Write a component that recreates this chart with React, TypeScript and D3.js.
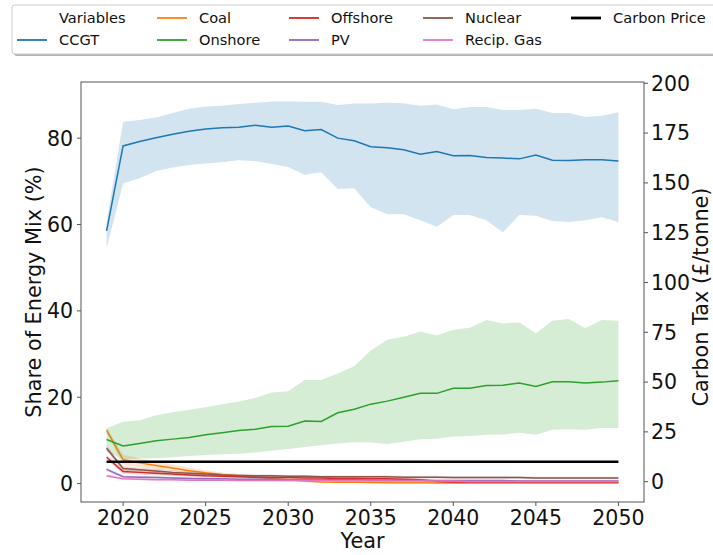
import React from "react";
import * as d3 from "d3";

const years = d3.range(2019, 2051);

const ccgtMean = [58.5,78.2,79.2,80.1,80.9,81.6,82.1,82.4,82.5,83.0,82.5,82.8,81.7,82.0,80.0,79.4,78.0,77.8,77.3,76.3,76.9,75.9,76.0,75.5,75.4,75.2,76.1,74.9,74.8,75.0,75.0,74.7];
const ccgtHi = [60.5,83.8,84.2,84.8,85.8,86.8,87.3,87.5,87.9,88.2,88.5,88.5,88.4,88.4,87.7,88.0,88.0,88.2,88.1,87.5,87.8,86.7,87.2,87.2,86.5,86.5,86.8,85.8,85.8,84.9,85.2,86.0];
const ccgtLo = [54.5,69.5,70.7,72.4,73.2,73.8,74.1,74.4,74.9,74.7,74.0,73.3,71.5,72.1,68.2,68.4,64.0,62.4,62.4,61.0,59.5,62.2,62.2,61.0,58.2,62.2,62.0,60.8,60.6,61.0,61.7,60.6];

const onshoreMean = [10.2,8.7,9.3,9.9,10.3,10.7,11.3,11.8,12.3,12.6,13.2,13.3,14.5,14.4,16.4,17.2,18.4,19.1,20.0,20.9,20.9,22.1,22.1,22.7,22.8,23.3,22.5,23.6,23.6,23.3,23.5,23.8];
const onshoreHi = [12.8,14.3,14.7,15.8,16.5,17.1,17.7,18.4,19.0,19.8,21.1,21.4,24.0,24.0,25.5,27.2,30.8,33.3,34.0,35.2,34.3,35.6,36.1,37.9,37.1,37.3,34.8,37.7,38.1,36.0,37.9,37.7];
const onshoreLo = [7.5,5.6,5.8,5.9,6.1,6.4,6.6,6.8,6.9,7.2,7.6,8.0,8.5,8.9,9.3,9.6,9.5,9.2,9.7,10.3,10.4,10.9,11.0,11.3,11.4,11.8,11.3,12.5,12.6,12.5,12.9,12.9];

const coalMean = [12.4,5.5,4.8,4.2,3.6,3.0,2.5,2.1,1.8,1.5,1.2,0.9,0.6,0.4,0.3,0.3,0.25,0.2,0.2,0.2,0.15,0.15,0.15,0.15,0.15,0.15,0.15,0.15,0.15,0.15,0.15,0.15];
const coalHi = [13.0,6.7,5.9,5.1,4.4,3.7,3.1,2.6,2.2,1.9,1.6,1.3,1.0,0.8,0.6,0.5,0.45,0.4,0.4,0.35,0.3,0.3,0.3,0.3,0.3,0.3,0.3,0.3,0.3,0.3,0.3,0.3];
const coalLo = [11.8,4.3,3.8,3.3,2.9,2.4,2.0,1.7,1.4,1.1,0.8,0.5,0.3,0.2,0.1,0.1,0.1,0.1,0.1,0.05,0.05,0.05,0.05,0.05,0.05,0.05,0.05,0.05,0.05,0.05,0.05,0.05];

const offshoreMean = [6.1,2.8,2.6,2.4,2.2,2.0,1.8,1.7,1.6,1.5,1.4,1.4,1.3,1.3,1.2,1.2,1.1,1.1,1.0,0.9,0.5,0.4,0.4,0.4,0.4,0.4,0.4,0.4,0.4,0.4,0.4,0.4];
const offshoreHi = [6.6,3.4,3.1,2.9,2.6,2.4,2.2,2.0,1.9,1.8,1.7,1.7,1.6,1.6,1.5,1.5,1.4,1.4,1.3,1.2,0.8,0.7,0.7,0.7,0.7,0.7,0.7,0.7,0.7,0.7,0.7,0.7];
const offshoreLo = [5.6,2.2,2.1,1.9,1.8,1.6,1.4,1.4,1.3,1.2,1.1,1.1,1.0,1.0,0.9,0.9,0.8,0.8,0.7,0.6,0.2,0.1,0.1,0.1,0.1,0.1,0.1,0.1,0.1,0.1,0.1,0.1];

const pvMean = [3.3,1.6,1.5,1.4,1.3,1.2,1.1,1.1,1.0,1.0,1.0,0.9,0.9,0.9,0.9,0.9,0.8,0.8,0.8,0.8,0.7,0.7,0.7,0.7,0.7,0.6,0.6,0.6,0.6,0.6,0.6,0.6];
const pvHi = [3.7,1.9,1.8,1.7,1.6,1.5,1.4,1.3,1.3,1.2,1.2,1.1,1.1,1.1,1.1,1.1,1.0,1.0,1.0,1.0,0.9,0.9,0.9,0.9,0.9,0.8,0.8,0.8,0.8,0.8,0.8,0.8];
const pvLo = [2.9,1.3,1.2,1.1,1.0,0.9,0.8,0.9,0.7,0.8,0.8,0.7,0.7,0.7,0.7,0.7,0.6,0.6,0.6,0.6,0.5,0.5,0.5,0.5,0.5,0.4,0.4,0.4,0.4,0.4,0.4,0.4];

const nuclearMean = [8.2,3.5,3.2,2.9,2.6,2.4,2.2,2.0,1.9,1.8,1.8,1.7,1.7,1.6,1.6,1.6,1.6,1.6,1.5,1.5,1.5,1.4,1.4,1.4,1.4,1.4,1.3,1.3,1.3,1.3,1.3,1.3];
const nuclearHi = [8.8,4.1,3.7,3.4,3.0,2.8,2.5,2.3,2.2,2.1,2.1,2.0,2.0,1.9,1.9,1.9,1.9,1.9,1.8,1.8,1.8,1.7,1.7,1.7,1.7,1.7,1.6,1.6,1.6,1.6,1.6,1.6];
const nuclearLo = [7.6,2.9,2.7,2.4,2.2,2.0,1.9,1.7,1.6,1.5,1.5,1.4,1.4,1.3,1.3,1.3,1.3,1.3,1.2,1.2,1.2,1.1,1.1,1.1,1.1,1.1,1.0,1.0,1.0,1.0,1.0,1.0];

const recipMean = [1.8,1.1,1.0,0.9,0.9,0.8,0.8,0.8,0.7,0.7,0.7,0.7,0.7,0.7,0.6,0.6,0.6,0.6,0.6,0.6,0.6,0.6,0.5,0.5,0.5,0.5,0.5,0.5,0.5,0.5,0.5,0.5];
const recipHi = [2.1,1.3,1.2,1.1,1.1,1.0,1.0,1.0,0.9,0.9,0.9,0.9,0.9,0.9,0.8,0.8,0.8,0.8,0.8,0.8,0.8,0.8,0.7,0.7,0.7,0.7,0.7,0.7,0.7,0.7,0.7,0.7];
const recipLo = [1.5,0.9,0.8,0.7,0.7,0.6,0.6,0.6,0.5,0.5,0.5,0.5,0.5,0.5,0.4,0.4,0.4,0.4,0.4,0.4,0.4,0.4,0.3,0.3,0.3,0.3,0.3,0.3,0.3,0.3,0.3,0.3];

const carbonPrice = [10,10,10,10,10,10,10,10,10,10,10,10,10,10,10,10,10,10,10,10,10,10,10,10,10,10,10,10,10,10,10,10];

const seriesNames = ["CCGT", "Coal", "Onshore", "Offshore", "PV", "Nuclear", "Recip. Gas"];
const seriesColors = ["#1f77b4", "#ff7f0e", "#2ca02c", "#d62728", "#9467bd", "#8c564b", "#e377c2"];
const seriesMeans = [ccgtMean, coalMean, onshoreMean, offshoreMean, pvMean, nuclearMean, recipMean];
const seriesHi = [ccgtHi, coalHi, onshoreHi, offshoreHi, pvHi, nuclearHi, recipHi];
const seriesLo = [ccgtLo, coalLo, onshoreLo, offshoreLo, pvLo, nuclearLo, recipLo];

const xTicks = [2020, 2025, 2030, 2035, 2040, 2045, 2050];
const yLeftTicks = [0, 20, 40, 60, 80];
const yRightTicks = [0, 25, 50, 75, 100, 125, 150, 175, 200];

const FONT = "DejaVu Sans, sans-serif";

export default function App() {
  const W = 713, H = 555;
  const L = 81, R = 644, T = 82, B = 502;
  const x = d3.scaleLinear().domain([2017.45, 2051.55]).range([L, R]);
  const yL = d3.scaleLinear().domain([-4.26, 93.0]).range([B, T]);
  const yR = d3.scaleLinear().domain([-10.2, 200.65]).range([B, T]);

  const line = (vals: number[]) =>
    d3.line<number>().x((_, i) => x(years[i])).y((v) => yL(v))(vals) || "";
  const area = (lo: number[], hi: number[]) =>
    d3.area<number>().x((_, i) => x(years[i])).y0((_, i) => yL(lo[i])).y1((_, i) => yL(hi[i]))(lo) || "";
  const cpLine = d3.line<number>().x((_, i) => x(years[i])).y((v) => yR(v))(carbonPrice) || "";

  const spine = "#555";

  const legendCols = [17, 157, 289, 423, 571];
  const row1 = 18, row2 = 40;
  const legendItems = [
    { col: 0, row: row1, label: "Variables", color: null as string | null, w: 1.8 },
    { col: 0, row: row2, label: "CCGT", color: seriesColors[0], w: 1.8 },
    { col: 1, row: row1, label: "Coal", color: seriesColors[1], w: 1.8 },
    { col: 1, row: row2, label: "Onshore", color: seriesColors[2], w: 1.8 },
    { col: 2, row: row1, label: "Offshore", color: seriesColors[3], w: 1.8 },
    { col: 2, row: row2, label: "PV", color: seriesColors[4], w: 1.8 },
    { col: 3, row: row1, label: "Nuclear", color: seriesColors[5], w: 1.8 },
    { col: 3, row: row2, label: "Recip. Gas", color: seriesColors[6], w: 1.8 },
    { col: 4, row: row1, label: "Carbon Price", color: "#000", w: 2.8 },
  ];

  return (
    <svg width={W} height={H} style={{ position: "absolute", left: 0, top: 0, background: "#fff" }} fontFamily={FONT}>
      <rect x={0} y={0} width={W} height={H} fill="#fff" />
      <defs>
        <clipPath id="plotclip">
          <rect x={L} y={T} width={R - L} height={B - T} />
        </clipPath>
      </defs>
      <g clipPath="url(#plotclip)">
        {seriesNames.map((n, i) => (
          <g key={n}>
            <path d={area(seriesLo[i], seriesHi[i])} fill={seriesColors[i]} fillOpacity={0.2} stroke="none" />
            <path d={line(seriesMeans[i])} fill="none" stroke={seriesColors[i]} strokeWidth={1.5} />
          </g>
        ))}
        <path d={cpLine} fill="none" stroke="#000" strokeWidth={2.6} />
      </g>
      <rect x={L} y={T} width={R - L} height={B - T} fill="none" stroke={spine} strokeWidth={1} />
      {xTicks.map((t) => (
        <g key={t}>
          <line x1={x(t)} x2={x(t)} y1={B} y2={B + 4} stroke={spine} />
          <text x={x(t)} y={525} textAnchor="middle" fontSize={20.5} fill="#111">{t}</text>
        </g>
      ))}
      {yLeftTicks.map((t) => (
        <g key={t}>
          <line x1={L - 4} x2={L} y1={yL(t)} y2={yL(t)} stroke={spine} />
          <text x={73} y={yL(t)} dy="0.36em" textAnchor="end" fontSize={20.5} fill="#111">{t}</text>
        </g>
      ))}
      {yRightTicks.map((t) => (
        <g key={t}>
          <line x1={R} x2={R + 4} y1={yR(t)} y2={yR(t)} stroke={spine} />
          <text x={651} y={yR(t)} dy="0.36em" textAnchor="start" fontSize={20.5} fill="#111">{t}</text>
        </g>
      ))}
      <text x={(L + R) / 2} y={548} textAnchor="middle" fontSize={20.8} fill="#111">Year</text>
      <text transform={`translate(40.5, ${(T + B) / 2}) rotate(-90)`} textAnchor="middle" fontSize={20.8} fill="#111">Share of Energy Mix (%)</text>
      <text transform={`translate(708, 297) rotate(-90)`} textAnchor="middle" fontSize={20.8} fill="#111">Carbon Tax (£/tonne)</text>

      <rect x={14} y={7} width={720} height={49} rx={3} fill="#666" fillOpacity={0.5} />
      <rect x={12} y={5} width={720} height={49} rx={3} fill="#fff" stroke="#ccc" strokeWidth={1} />
      {legendItems.map((it) => (
        <g key={it.label}>
          {it.color && (
            <line x1={legendCols[it.col]} x2={legendCols[it.col] + 30} y1={it.row} y2={it.row} stroke={it.color} strokeWidth={it.w} />
          )}
          <text x={legendCols[it.col] + 42} y={it.row} dy="0.36em" fontSize={14.6} fill="#111">{it.label}</text>
        </g>
      ))}
    </svg>
  );
}
